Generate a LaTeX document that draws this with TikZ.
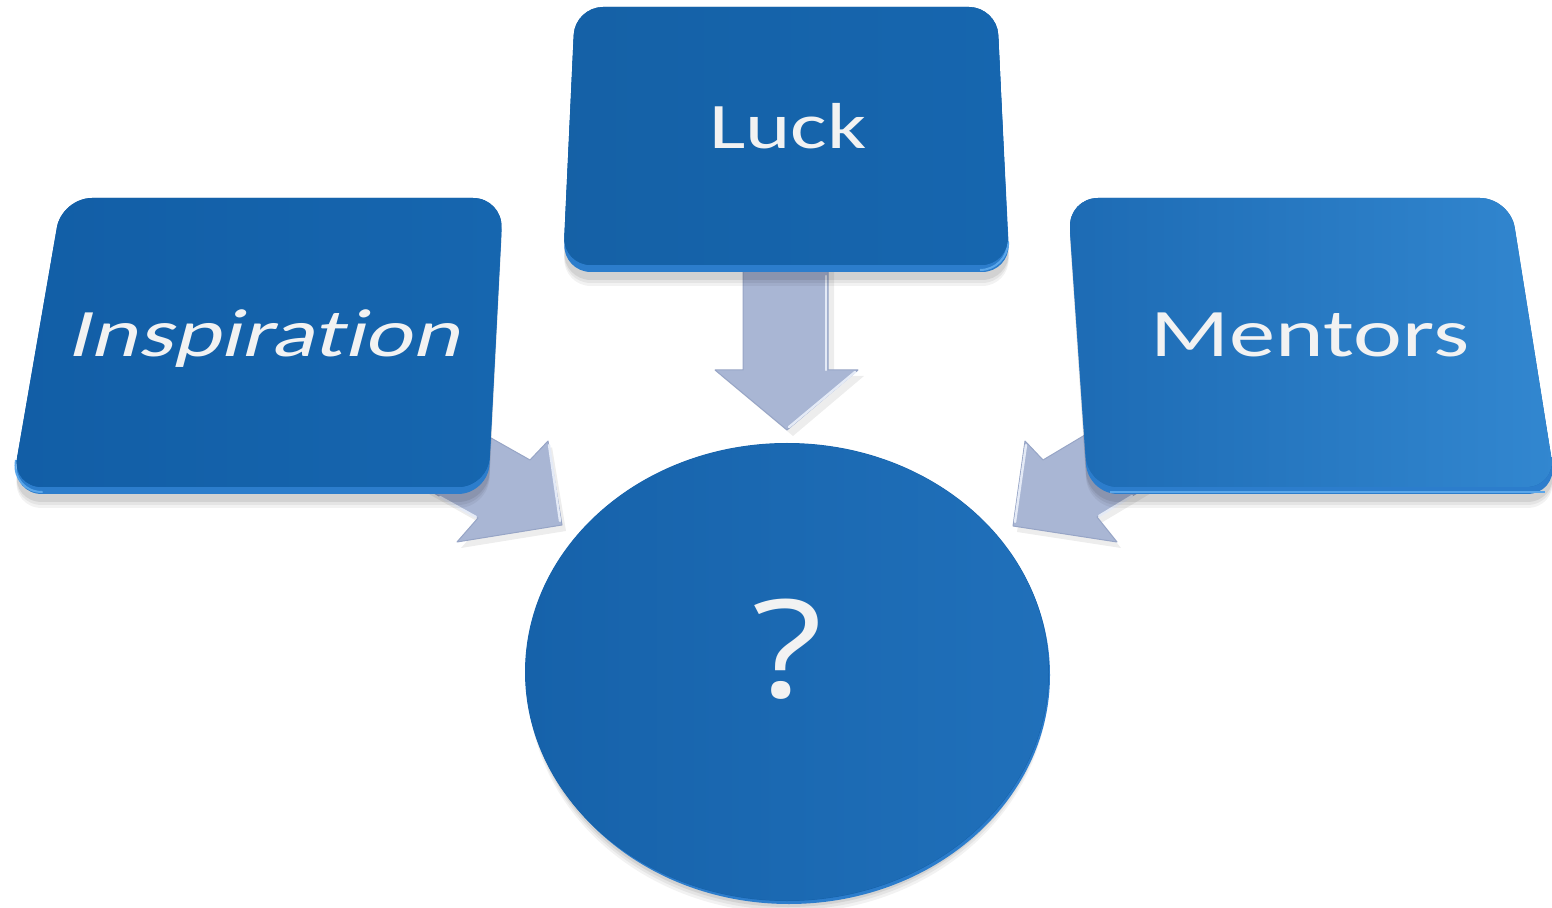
\documentclass[tikz,border=0pt]{standalone}
\usepackage{fontspec}
\setmainfont{Carlito}[Ligatures={NoCommon,NoRequired,NoContextual}]
\newfontfamily\qfont{Open Sans}
\definecolor{arrowc}{HTML}{A9B6D4}
\definecolor{arrowedge}{HTML}{97A5C6}
\definecolor{arrowhi}{HTML}{E4EAF6}
\definecolor{faceA}{HTML}{125EA6}
\definecolor{faceB}{HTML}{1666AF}
\definecolor{menA}{HTML}{1D6BB4}
\definecolor{menB}{HTML}{3287D0}
\definecolor{rimc}{HTML}{2C7DCC}
\definecolor{rimhi}{HTML}{5AA6EA}
\definecolor{circA}{HTML}{1662AA}
\definecolor{circB}{HTML}{2070BA}
\definecolor{labelc}{HTML}{F2F2F2}
\begin{document}
\begin{tikzpicture}[x=0.5pt,y=-0.5pt,line join=round,
  shadowlayer/.style={fill=black,fill opacity=0.07,draw=none},
  arrowbody/.style={fill=arrowc,draw=arrowedge,line width=0.5pt},
  arrowlight/.style={draw=arrowhi,line width=1.2pt,line cap=round},
  rimlayer/.style={fill=rimc,draw=none},
  lbl/.style={text=labelc,inner sep=0pt,anchor=base,transform shape}]
\useasboundingbox (0,0) rectangle (1552,908);

% ---------- block arrows (behind boxes) ----------
% Luck arrow
\fill[shadowlayer] (749,250) -- (749,376) -- (721,376) -- (793,436) -- (864,376) -- (834,376) -- (834,250) -- cycle;
\path[arrowbody] (743,250) -- (743,370) -- (715,370) -- (787,430) -- (858,370) -- (828,370) -- (828,250) -- cycle;
\draw[arrowlight] (826,276) -- (826,370);
\draw[arrowlight] (855,372) -- (789,427);
% Inspiration arrow
\fill[shadowlayer] (351,450) -- (482,524) -- (461,548) -- (566,531) -- (552,447) -- (534,466) -- (403,392) -- cycle;
\path[arrowbody] (399,386) -- (530,460) -- (548,441) -- (562,525) -- (457,542) -- (478,518) -- (347,444) -- cycle;
\draw[arrowlight] (549,445) -- (560,521);
\draw[arrowlight] (440,497) -- (476,517);
% Mentors arrow
\fill[shadowlayer] (1176,389) -- (1047,466) -- (1029,447) -- (1017,532) -- (1121,548) -- (1101,523) -- (1230,446) -- cycle;
\path[arrowbody] (1172,383) -- (1043,460) -- (1025,441) -- (1013,526) -- (1117,542) -- (1097,517) -- (1226,440) -- cycle;
\draw[arrowlight] (1026,445) -- (1015,522);
\draw[arrowlight] (1132,496) -- (1099,516);

% ---------- Inspiration box ----------
\foreach \d/\o in {14/0.05,11/0.06,8/0.08}{
  \fill[black,opacity=\o,rounded corners=15pt] (282,198+\d) -- (503,198+\d) -- (488,494+\d) -- (12,494+\d) -- (62,198+\d) -- cycle;}
\fill[rimlayer,rounded corners=15pt] (282,204) -- (503,204) -- (488,494) -- (12,494) -- (62,204) -- cycle;
\draw[rimhi,line width=1pt,rounded corners=15pt] (40,492) -- (12,492) -- (16,460);
\fill[faceA,rounded corners=15pt] (282,198) -- (503,198) -- (488,487) -- (12,487) -- (62,198) -- cycle;
\shade[left color=faceA,right color=faceB,rounded corners=15pt] (282,198) -- (503,198) -- (488,487) -- (12,487) -- (62,198) -- cycle;
\begin{scope}[shift={(263,357)}]
\node[lbl,xscale=1.33,xslant=0.2,font=\fontsize{34}{40}\selectfont] (insp) at (0,0) {Inspiration};
\end{scope}

% ---------- Luck box ----------
\foreach \d/\o in {14/0.05,11/0.06,8/0.08}{
  \fill[black,opacity=\o,rounded corners=14pt] (786,7+\d) -- (997,7+\d) -- (1010,272+\d) -- (563,272+\d) -- (575,7+\d) -- cycle;}
\fill[rimlayer,rounded corners=14pt] (786,12) -- (997,12) -- (1010,272) -- (563,272) -- (575,12) -- cycle;
\draw[rimhi,line width=1pt,rounded corners=14pt] (980,270) -- (1008,270) -- (1008,245);
\fill[faceB!95!black,rounded corners=14pt] (786,7) -- (997,7) -- (1009,265) -- (563,265) -- (575,7) -- cycle;
\shade[left color=faceB!95!black,right color=faceB,rounded corners=14pt] (786,7) -- (997,7) -- (1009,265) -- (563,265) -- (575,7) -- cycle;
\begin{scope}[shift={(788,149)}]
\node[lbl,xscale=1.33,font=\fontsize{32.5}{38}\selectfont] (luck) at (0,0) {Luck};
\end{scope}

% ---------- Mentors box ----------
\foreach \d/\o in {14/0.05,11/0.06,8/0.08}{
  \fill[black,opacity=\o,rounded corners=15pt] (1290,198+\d) -- (1510,198+\d) -- (1557,494+\d) -- (1088,494+\d) -- (1068,198+\d) -- cycle;}
\fill[rimlayer,rounded corners=15pt] (1290,204) -- (1510,204) -- (1557,494) -- (1088,494) -- (1068,204) -- cycle;
\draw[rimhi,line width=1pt] (1110,492) -- (1545,492);
\fill[menA,rounded corners=15pt] (1290,198) -- (1510,198) -- (1556,487) -- (1088,487) -- (1068,198) -- cycle;
\shade[left color=menA,right color=menB,rounded corners=15pt] (1290,198) -- (1510,198) -- (1556,487) -- (1088,487) -- (1068,198) -- cycle;
\begin{scope}[shift={(1310,357)}]
\node[lbl,xscale=1.36,font=\fontsize{34}{40}\selectfont] (ment) at (0,0) {Mentors};
\end{scope}

% ---------- circle ----------
\foreach \d/\o in {12/0.05,9/0.06,6/0.08}{
  \fill[black,opacity=\o] (788,672+\d) ellipse [x radius=260, y radius=229];}
\fill[rimc] (789,675) ellipse [x radius=261, y radius=229];
\draw[rimhi,line width=1.2pt] (1046,700) arc [start angle=-5, end angle=-60, x radius=261, y radius=228];
\fill[circA] (787,672) ellipse [x radius=262, y radius=229];
\shade[left color=circA,right color=circB] (787,672) ellipse [x radius=261.5, y radius=228.5];
\begin{scope}[shift={(788,697)}]
\node[lbl,xscale=1.2,font=\qfont\fontsize{68}{72}\selectfont] (q) at (0,0) {?};
\end{scope}
\end{tikzpicture}
\end{document}
